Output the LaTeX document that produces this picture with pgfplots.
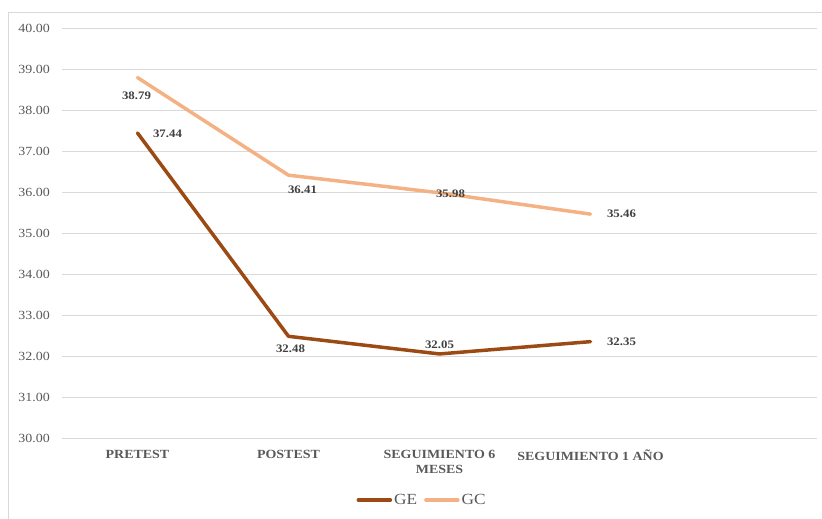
\documentclass[border=0pt]{standalone}
\usepackage{fontspec}
\setmainfont{Liberation Serif}[FakeStretch=1.12]
\usepackage{pgfplots}
\pgfplotsset{compat=1.18}
\definecolor{ge}{HTML}{9A4A12}
\definecolor{gc}{HTML}{F4B183}
\definecolor{gridc}{HTML}{D9D9D9}
\definecolor{txt}{HTML}{595959}
\definecolor{lbl}{HTML}{404040}

% x, score, label offsets (dx, dy in bp)
\pgfplotstableread{
x y dx dy
0 37.44 30 -1
1 32.48 2 -12
2 32.05 0 9
3 32.35 31 0
}\ge
\pgfplotstableread{
x y dx dy
0 38.79 -1 -18
1 36.41 14 -15
2 35.98 11 -1
3 35.46 31 0
}\gc

\begin{document}
\begin{tikzpicture}[x=1bp,y=1bp]
\path[use as bounding box] (0,0) rectangle (822,519);
\draw[color=gridc] (8,-10) -- (8,507) -- (840,507);
\begin{axis}[
  at={(62bp,81bp)}, anchor=south west,
  scale only axis, width=755bp, height=410bp,
  xmin=-0.5, xmax=4.5, ymin=30, ymax=40,
  axis line style={draw=none}, tick style={draw=none},
  ytick={30,31,...,40},
  ymajorgrids, grid style={gridc, line width=0.8pt},
  /pgf/number format/assume math mode=true,
  yticklabel style={/pgf/number format/fixed, /pgf/number format/fixed zerofill,
    /pgf/number format/precision=2, font=\fontsize{12.5}{14}\selectfont,
    text=txt, inner sep=0pt, xshift=-12bp},
  xtick={0,1,2,3},
  xticklabels={PRETEST, POSTEST, {SEGUIMIENTO 6\\MESES}, SEGUIMIENTO 1 AÑO},
  xticklabel style={font=\bfseries\fontsize{12.5}{15}\selectfont, text=txt,
    align=center, inner sep=0pt, yshift=-12bp},
  legend columns=2,
  legend style={at={(0.477,-0.151)}, anchor=center, draw=none, fill=none,
    font=\fontsize{15.5}{16}\selectfont, text=txt,
    /tikz/every even column/.append style={column sep=5bp}},
  legend image code/.code={\draw[#1] (0bp,0bp) -- (32bp,0bp);},
  point meta=y,
  nodes near coords={\pgfmathprintnumber[fixed,fixed zerofill,precision=2]{\pgfplotspointmeta}},
  visualization depends on={\thisrow{dx} \as \dx},
  visualization depends on={\thisrow{dy} \as \dy},
  nodes near coords style={anchor=center, xshift=\dx*1bp, yshift=\dy*1bp,
    font=\bfseries\fontsize{11.5}{13}\selectfont, text=lbl, inner sep=0pt},
]
\addplot[ge, line width=3.5pt, line join=round, line cap=round] table[x=x, y=y] {\ge};
\addlegendentry{GE}
\addplot[gc, line width=3.5pt, line join=round, line cap=round] table[x=x, y=y] {\gc};
\addlegendentry{GC}
\end{axis}
\end{tikzpicture}
\end{document}
